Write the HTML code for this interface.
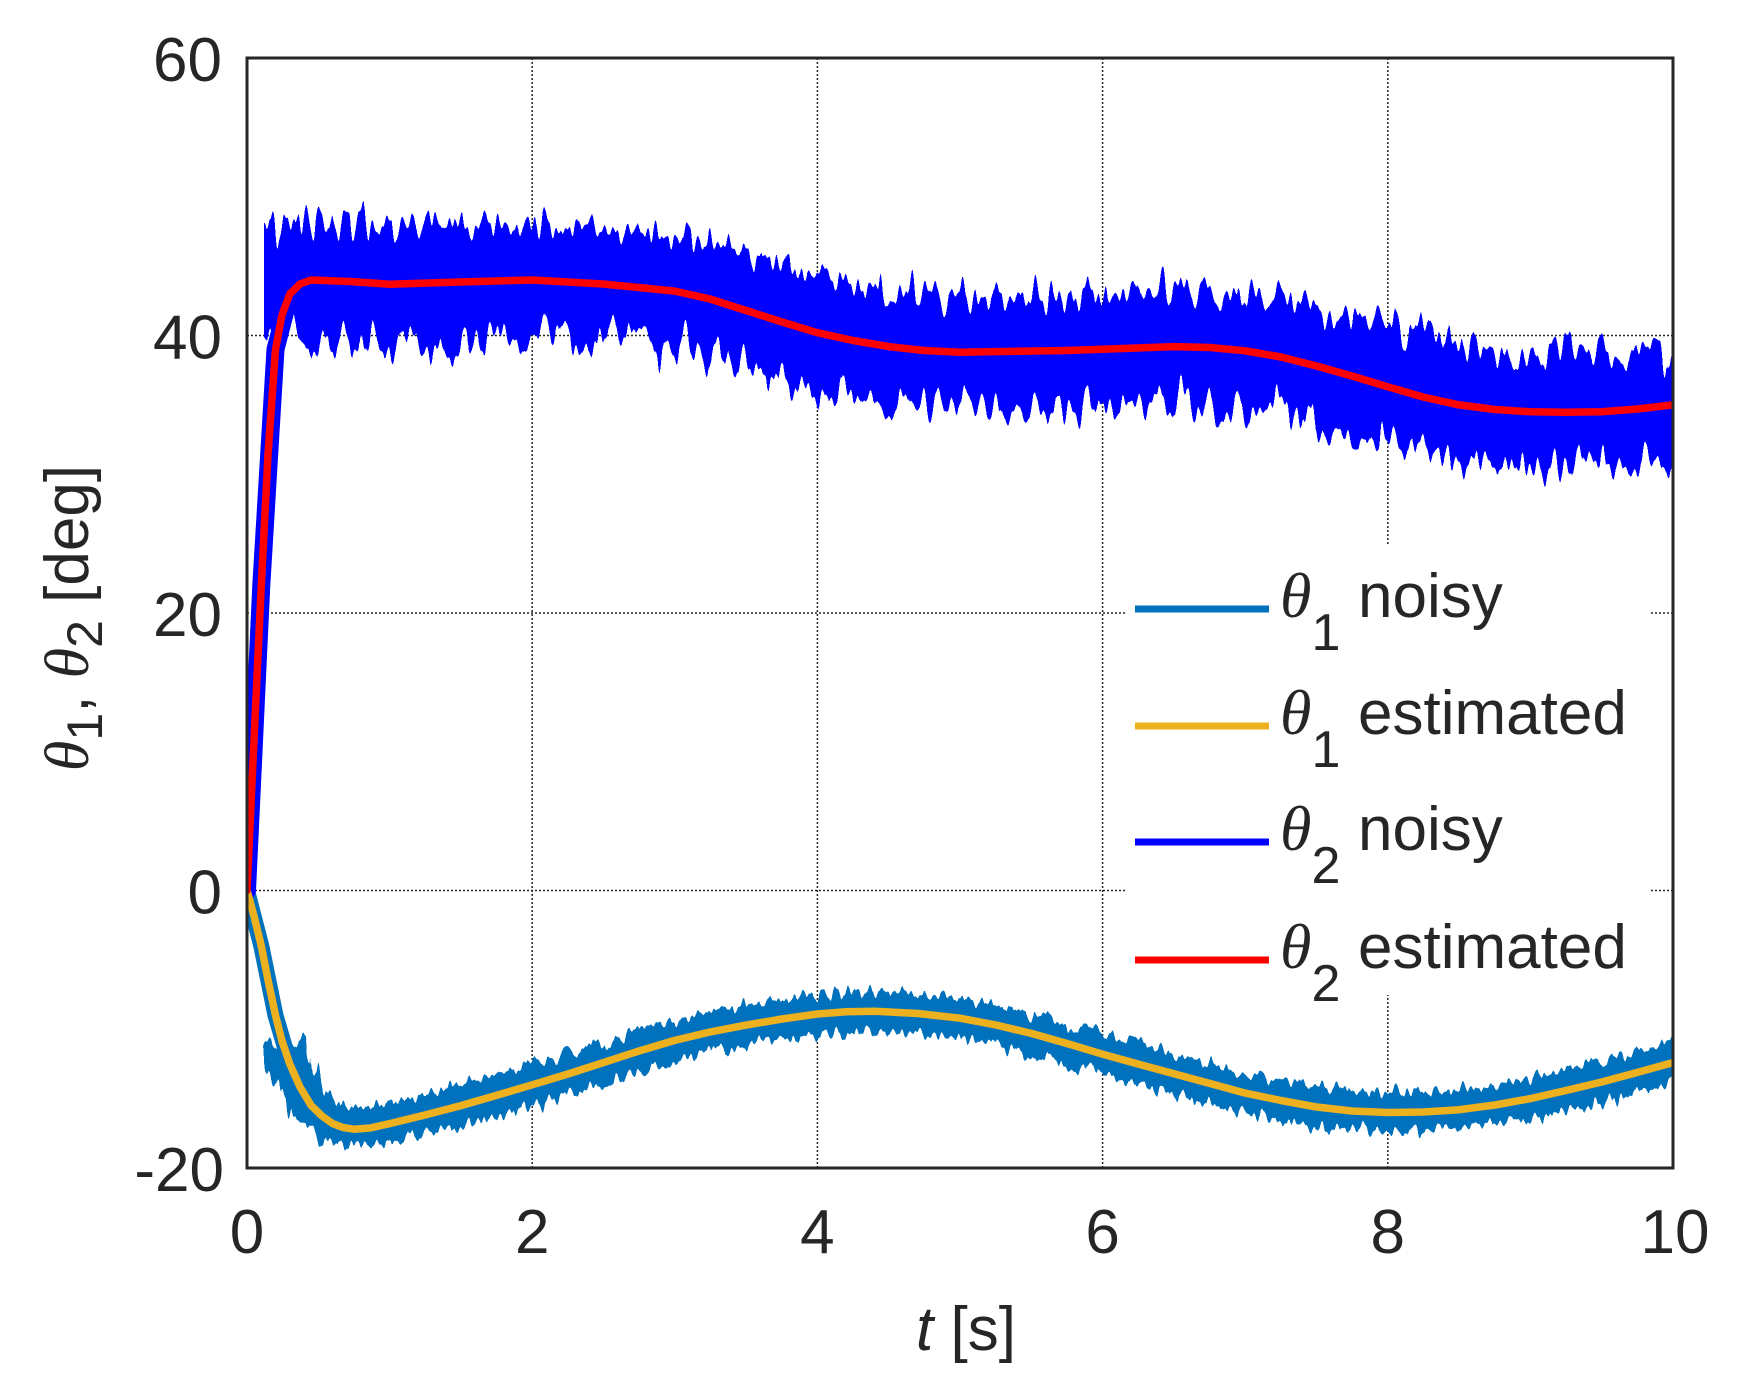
<!DOCTYPE html>
<html><head><meta charset="utf-8"><style>
html,body{margin:0;padding:0;background:#fff;}
svg{display:block;}
text{font-family:"Liberation Sans",sans-serif;fill:#262626;}
</style></head><body>
<svg width="1752" height="1384" viewBox="0 0 1752 1384" xmlns="http://www.w3.org/2000/svg">
<defs>
<clipPath id="cp"><rect x="247" y="58" width="1426" height="1110"/></clipPath>
<clipPath id="cp2"><rect x="264" y="58" width="1409" height="1110"/></clipPath>
<filter id="n2" filterUnits="userSpaceOnUse" x="0" y="0" width="1752" height="1384">
<feTurbulence type="fractalNoise" baseFrequency="0.12 0.004" numOctaves="2" seed="3" result="t"/>
<feDisplacementMap in="SourceGraphic" in2="t" scale="80" xChannelSelector="R" yChannelSelector="G"/>
</filter>
<filter id="n1" filterUnits="userSpaceOnUse" x="0" y="0" width="1752" height="1384">
<feTurbulence type="fractalNoise" baseFrequency="0.15 0.01" numOctaves="2" seed="7" result="t"/>
<feDisplacementMap in="SourceGraphic" in2="t" scale="28" xChannelSelector="R" yChannelSelector="G"/>
</filter>
</defs>
<rect width="1752" height="1384" fill="#fff"/>
<g stroke="#262626" stroke-width="1.5" stroke-dasharray="2,2">
<line x1="532.2" y1="58" x2="532.2" y2="1168"/>
<line x1="817.4" y1="58" x2="817.4" y2="1168"/>
<line x1="1102.6" y1="58" x2="1102.6" y2="1168"/>
<line x1="1387.8" y1="58" x2="1387.8" y2="1168"/>
<line x1="247" y1="335.5" x2="1673" y2="335.5"/>
<line x1="247" y1="613" x2="1673" y2="613"/>
<line x1="247" y1="890.5" x2="1673" y2="890.5"/>
</g>
<g clip-path="url(#cp)" fill="none" stroke-linejoin="round" stroke-linecap="round">
<g filter="url(#n1)">
<polyline stroke="#0072BD" stroke-width="40" stroke-linecap="butt" points="286,1040 289.8,1064 311.2,1105.6 332.6,1123.6 353.9,1129.2 389.6,1123.6 460.9,1105.6 532.2,1084.8 603.5,1062.6 674.8,1040.4 746.1,1025.1 817.4,1014 874.4,1011.2 960,1018.2 1031.3,1033.4 1102.6,1054.2 1173.9,1073.7 1245.2,1093.1 1316.5,1107 1387.8,1112.5 1459.1,1109.7 1530.4,1098.6 1601.7,1082 1690,1058"/>
</g>
<polyline stroke="#0072BD" stroke-width="16" points="247,890.5 261.3,946 275.5,1015.4 289.8,1064 311.2,1105.6"/>
<g clip-path="url(#cp2)">
<g filter="url(#n2)">
<polyline stroke="#0000FF" stroke-width="112" stroke-linecap="butt" points="220,282 311.2,280 389.6,284.2 532.2,280 674.8,291.1 746.1,310.5 817.4,332.7 888.7,346.6 960,352.2 1173.9,346.6 1245.2,350.8 1316.5,366 1387.8,386.8 1459.1,404.9 1530.4,411.8 1601.7,411.8 1700,403"/>
</g>
</g>
<polyline stroke="#0000FF" stroke-width="18" points="247,890.5 261.3,585.3 275.5,349.4 289.8,293.9 311.2,280"/>
<polyline stroke="#EDB120" stroke-width="7.5" points="247,890.5 254,916 261.3,946 268,980 275.5,1015.4 282,1041 289.8,1064 300,1087 311.2,1105.6 322,1116 332.6,1123.6 343,1127.5 353.9,1129.2 370,1128 389.6,1123.6 425,1115 460.9,1105.6 496,1095.5 532.2,1084.8 568,1074 603.5,1062.6 639,1051 674.8,1040.4 710,1032 746.1,1025.1 782,1019 817.4,1014 846,1011.8 874.4,1011.2 918,1013.5 960,1018.2 996,1025 1031.3,1033.4 1067,1043.5 1102.6,1054.2 1138,1064 1173.9,1073.7 1210,1083.5 1245.2,1093.1 1281,1100.5 1316.5,1107 1352,1111 1387.8,1112.5 1423,1112 1459.1,1109.7 1495,1105 1530.4,1098.6 1566,1090.5 1601.7,1082 1637,1072.5 1673,1062.6"/>
<polyline stroke="#FF0000" stroke-width="7.5" points="247,890.5 254,740 261.3,585.3 268,455 275.5,349.4 282,315 289.8,293.9 300,284 311.2,280 350,281.5 389.6,284.2 460,282 532.2,280 603,284 674.8,291.1 710,299 746.1,310.5 782,322 817.4,332.7 853,340.5 888.7,346.6 924,350.5 960,352.2 1067,350.5 1173.9,346.6 1210,347.5 1245.2,350.8 1281,357 1316.5,366 1352,376 1387.8,386.8 1423,397 1459.1,404.9 1495,409.5 1530.4,411.8 1566,412.3 1601.7,411.8 1637,409 1673,404.9"/>
</g>
<rect x="1127" y="545" width="524" height="450" fill="#fff"/>
<rect x="247" y="58" width="1426" height="1110" fill="none" stroke="#262626" stroke-width="3"/>
<g font-size="62" text-anchor="end">
<text x="222" y="81">60</text>
<text x="222" y="358.5">40</text>
<text x="222" y="636">20</text>
<text x="222" y="913.5">0</text>
<text x="224" y="1191">-20</text>
</g>
<g font-size="62" text-anchor="middle">
<text x="247" y="1253">0</text>
<text x="532.2" y="1253">2</text>
<text x="817.4" y="1253">4</text>
<text x="1102.6" y="1253">6</text>
<text x="1387.8" y="1253">8</text>
<text x="1675" y="1253">10</text>
</g>
<text x="966" y="1350" font-size="62" text-anchor="middle"><tspan font-style="italic">t</tspan> [s]</text>
<g transform="translate(88,618) rotate(-90)">
<text x="0" y="0" font-size="62" text-anchor="middle"><tspan font-family="Liberation Serif" font-style="italic">θ</tspan><tspan font-size="50" dy="14">1</tspan><tspan dy="-14">, </tspan><tspan font-family="Liberation Serif" font-style="italic">θ</tspan><tspan font-size="50" dy="14">2</tspan><tspan dy="-14"> [deg]</tspan></text>
</g>
<g stroke-width="7">
<line x1="1135" y1="609" x2="1269" y2="609" stroke="#0072BD"/>
<line x1="1135" y1="726" x2="1269" y2="726" stroke="#EDB120"/>
<line x1="1135" y1="842" x2="1269" y2="842" stroke="#0000FF"/>
<line x1="1135" y1="960" x2="1269" y2="960" stroke="#FF0000"/>
</g>
<g font-size="62" fill="#000">
<text x="1280" y="617"><tspan font-family="Liberation Serif" font-style="italic" font-size="64">θ</tspan><tspan font-size="52" dy="33">1</tspan><tspan dy="-33" x="1358">noisy</tspan></text>
<text x="1280" y="734"><tspan font-family="Liberation Serif" font-style="italic" font-size="64">θ</tspan><tspan font-size="52" dy="33">1</tspan><tspan dy="-33" x="1358">estimated</tspan></text>
<text x="1280" y="850"><tspan font-family="Liberation Serif" font-style="italic" font-size="64">θ</tspan><tspan font-size="52" dy="33">2</tspan><tspan dy="-33" x="1358">noisy</tspan></text>
<text x="1280" y="968"><tspan font-family="Liberation Serif" font-style="italic" font-size="64">θ</tspan><tspan font-size="52" dy="33">2</tspan><tspan dy="-33" x="1358">estimated</tspan></text>
</g>
</svg>
</body></html>
